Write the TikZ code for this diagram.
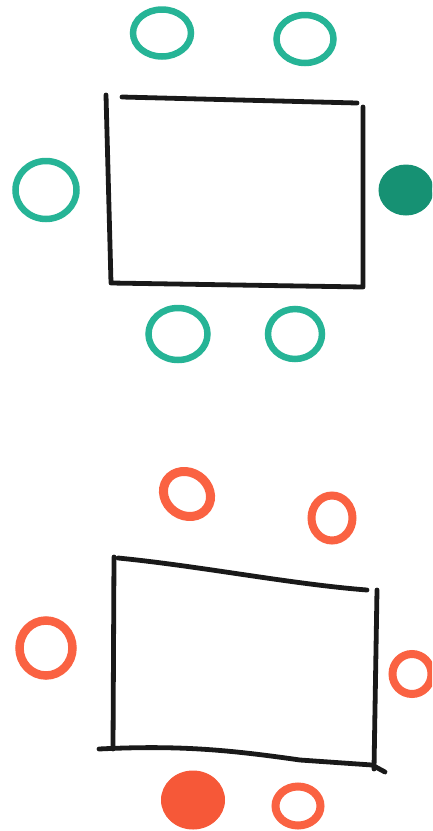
\documentclass[tikz,border=0pt]{standalone}
\definecolor{chairteal}{RGB}{38, 180, 150}
\definecolor{seatteal}{RGB}{22, 145, 115}
\definecolor{chairred}{RGB}{250, 98, 66}
\definecolor{seatred}{RGB}{246, 88, 56}
\usepackage{tikz}
\usetikzlibrary{shapes.geometric, positioning}

\begin{document}
\begin{tikzpicture}[x=1pt, y=-1pt,
    chair/.style={draw, ellipse, inner sep=0pt},
    tableline/.style={draw=black!90, line width=4.8pt, line cap=round, line join=round}]
    \useasboundingbox (0,0) rectangle (432,831);
    \clip (0,0) rectangle (432,831);

    % first table, teal chairs
    \draw[tableline] (106,95) -- (111,283) -- (363,287) -- (363,107);
    \draw[tableline] (122,97) -- (357,103);
    \node[chair, draw=chairteal, line width=6.5pt,
          minimum width=58pt, minimum height=47pt] (tl) at (162,33) {};
    \node[chair, draw=chairteal, line width=6.5pt,
          minimum width=57pt, minimum height=48pt] (tr) at (305,39) {};
    \node[chair, draw=chairteal, line width=6.5pt,
          minimum width=61pt, minimum height=58pt] (lt) at (46,190) {};
    \node[chair, draw=seatteal, fill=seatteal, line width=1pt,
          minimum width=54pt, minimum height=50pt] (rt) at (406,190) {};
    \node[chair, draw=chairteal, line width=6.5pt,
          minimum width=59pt, minimum height=52pt] (bl) at (178,334) {};
    \node[chair, draw=chairteal, line width=6.5pt,
          minimum width=54pt, minimum height=50pt] (br) at (295,334) {};

    % second table, red chairs
    \draw[tableline] (114,557) -- (113,749);
    \draw[tableline] (118,558) .. controls (200,566) and (290,584) .. (367,590);
    \draw[tableline] (377,590) -- (374,769);
    \draw[tableline] (99,749) .. controls (180,745) and (230,750) .. (300,760)
                     -- (372,765) -- (385,772);
    \node[chair, draw=chairred, line width=9pt, rotate=-35,
          minimum width=49pt, minimum height=43pt] (tl2) at (187,494) {};
    \node[chair, draw=chairred, line width=8pt,
          minimum width=41pt, minimum height=45pt] (tr2) at (332,518) {};
    \node[chair, draw=chairred, line width=8.5pt,
          minimum width=53pt, minimum height=55pt] (lt2) at (46,648) {};
    \node[chair, draw=chairred, line width=8pt,
          minimum width=39pt, minimum height=40pt] (rt2) at (412,674) {};
    \node[chair, draw=seatred, fill=seatred, line width=1pt,
          minimum width=63pt, minimum height=58pt] (bl2) at (193,800) {};
    \node[chair, draw=chairred, line width=8pt,
          minimum width=45pt, minimum height=39pt] (br2) at (298,806) {};
\end{tikzpicture}
\end{document}
